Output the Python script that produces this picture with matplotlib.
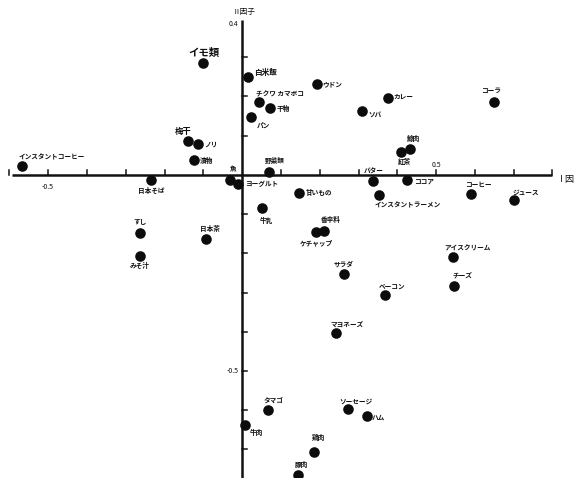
import matplotlib
matplotlib.use("Agg")
import matplotlib.pyplot as plt

plt.rcParams['font.family'] = ['Noto Sans CJK JP', 'DejaVu Sans']

# item scores on factor I (x) and factor II (y)
items = [
    "インスタントコーヒー", "梅干", "ノリ", "漬物", "日本そば", "魚", "ヨーグルト",
    "イモ類", "白米飯", "ウドン", "カレー", "チクワ カマボコ", "干物", "パン", "ソバ", "コーラ",
    "鯨肉", "紅茶", "バター", "ココア", "インスタントラーメン", "コーヒー", "ジュース",
    "野菜類", "甘いもの", "牛乳", "香辛料", "ケチャップ", "すし", "みそ汁", "日本茶",
    "サラダ", "ベーコン", "アイスクリーム", "チーズ", "マヨネーズ", "タマゴ", "牛肉",
    "ソーセージ", "ハム", "鶏肉", "豚肉",
]
factor1 = [
    -0.567, -0.140, -0.114, -0.124, -0.234, -0.031, -0.010,
    -0.102, 0.016, 0.192, 0.375, 0.043, 0.073, 0.024, 0.310, 0.648,
    0.434, 0.409, 0.338, 0.425, 0.354, 0.591, 0.702,
    0.070, 0.147, 0.052, 0.212, 0.191, -0.264, -0.264, -0.094,
    0.262, 0.368, 0.544, 0.546, 0.242, 0.066, 0.007,
    0.272, 0.321, 0.185, 0.144,
]
factor2 = [
    0.023, 0.086, 0.079, 0.038, -0.014, -0.012, -0.022,
    0.286, 0.249, 0.231, 0.197, 0.186, 0.170, 0.147, 0.163, 0.187,
    0.067, 0.059, -0.015, -0.014, -0.051, -0.048, -0.065,
    0.007, -0.045, -0.085, -0.142, -0.145, -0.147, -0.206, -0.163,
    -0.254, -0.306, -0.209, -0.283, -0.404, -0.600, -0.639,
    -0.598, -0.615, -0.706, -0.765,
]

# label placement: offset in pixels (right, up) and horizontal alignment
label_pos = [
    (-4, 9, 'left'), (-5, 10, 'center'), (6, 0, 'left'), (6, -1, 'left'), (0, -10, 'center'),
    (3, 11, 'center'), (7, 0, 'left'),
    (1, 10, 'center'), (6, 5, 'left'), (6, 1, 'left'), (6, 1, 'left'), (-3, 8, 'left'),
    (6, 0, 'left'), (5, -8, 'left'), (6, -3, 'left'), (-3, 11, 'center'),
    (3, 10, 'center'), (4, -10, 'center'), (0, 10, 'center'), (7, -1, 'left'),
    (-5, -10, 'left'), (-6, 9, 'left'), (-2, 8, 'left'),
    (6, 12, 'center'), (7, 0, 'left'), (-2, -12, 'left'), (-4, 11, 'left'),
    (0, -11, 'center'), (0, 11, 'center'), (0, -10, 'center'), (4, 10, 'center'),
    (0, 10, 'center'), (-6, 9, 'left'), (-9, 9, 'left'), (-1, 10, 'left'),
    (-6, 8, 'left'), (-4, 10, 'left'), (5, -7, 'left'),
    (-8, 8, 'left'), (5, -1, 'left'), (5, 14, 'center'), (4, 10, 'center'),
]

fig = plt.figure(figsize=(5.75, 4.78), dpi=100)
ax = fig.add_axes([0, 0, 1, 1])
ax.set_xlim(-0.624, 0.858)
ax.set_ylim(-0.773, 0.446)
ax.axis('off')

# hand-drawn style axes with tick marks every 0.1
ink = '#111111'
ax.plot([-0.593, 0.80], [0, 0], color=ink, lw=1.8, solid_capstyle='butt')
ax.plot([0, 0], [-0.80, 0.395], color=ink, lw=1.8, solid_capstyle='butt')
for i in range(-6, 9):
    if i == 0:
        continue
    t = i / 10
    ax.plot([t, t], [0, 0.013], color=ink, lw=1.1)
for i in range(-7, 4):
    if i == 0:
        continue
    t = i / 10
    ax.plot([0, 0.013], [t, t], color=ink, lw=1.1)

ax.text(-0.5, -0.02, "-0.5", fontsize=5, ha='center', va='top', color=ink)
ax.text(0.5, 0.015, "0.5", fontsize=5, ha='center', va='bottom', color=ink)
ax.text(-0.01, -0.5, "-0.5", fontsize=5, ha='right', va='center', color=ink)
ax.text(-0.01, 0.385, "0.4", fontsize=5, ha='right', va='center', color=ink)
ax.text(0.812, -0.012, "Ⅰ因", fontsize=6.5, ha='left', va='center', color=ink)
ax.text(0.005, 0.405, "Ⅱ因子", fontsize=5.5, ha='center', va='bottom', color=ink)

ax.scatter(factor1, factor2, s=58, color='#0c0c0c', zorder=3, linewidths=0)

big = {"イモ類": 7.5, "梅干": 6, "白米飯": 5.5}
for name, x, y, (dx, dy, ha) in zip(items, factor1, factor2, label_pos):
    ax.annotate(name, (x, y), xytext=(dx * 0.72, dy * 0.72), textcoords='offset points',
                ha=ha, va='center', fontsize=big.get(name, 4.8), color=ink,
                fontweight='bold')

fig.savefig("out.png", dpi=100, facecolor='white')
